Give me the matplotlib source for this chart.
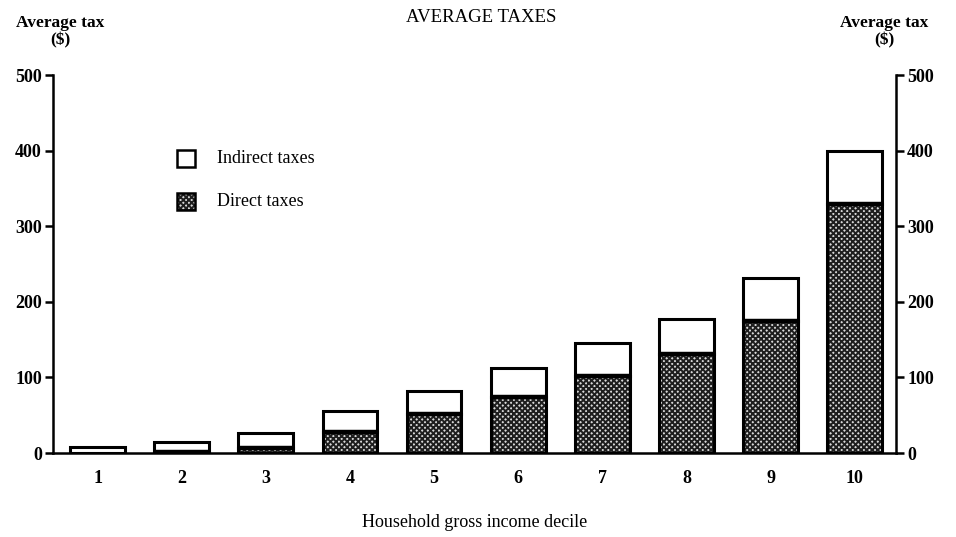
import numpy as np
import matplotlib
matplotlib.use('Agg')
from matplotlib import pyplot as plt

# average tax per household, by gross income decile ($)
deciles = [1, 2, 3, 4, 5, 6, 7, 8, 9, 10]
direct_taxes = [0, 2, 6, 28, 51, 74, 102, 131, 174, 330]
indirect_taxes = [8, 13, 21, 28, 31, 38, 43, 46, 57, 70]
y_ticks = [0, 100, 200, 300, 400, 500]

plt.rcParams['font.family'] = ['Liberation Serif', 'DejaVu Serif']
plt.rcParams['hatch.linewidth'] = 1.4

fig = plt.figure(figsize=(9.56, 5.37), dpi=100)
ax = fig.add_axes([0.0554, 0.1564, 0.8818, 0.7039])

x = np.array(deciles)
direct = np.array(direct_taxes)
indirect = np.array(indirect_taxes)
w = 0.65
stipple = '#1e1e1e'

# stippled fill for direct taxes, then the black outlines on top
ax.bar(x, direct, w, color='#d8d8d8', edgecolor=stipple, hatch='xxxxxx', linewidth=0, zorder=2)
ax.bar(x, direct, w, fill=False, edgecolor='black', linewidth=2.2, zorder=3)
ax.bar(x, indirect, w, bottom=direct, color='white', edgecolor='black', linewidth=2.2, zorder=3)
# heavier line where the two parts of a bar meet
ax.hlines(direct[direct > 0], x[direct > 0] - w / 2, x[direct > 0] + w / 2,
          color='black', linewidth=3.2, zorder=4)

ax.set_xlim(0.47, 10.49)
ax.set_ylim(0, 500)
ax.set_xticks(deciles)
ax.set_yticks(y_ticks)

ax.spines['top'].set_visible(False)
for s in ['left', 'right', 'bottom']:
    ax.spines[s].set_linewidth(1.8)

ax.tick_params(axis='x', length=0, pad=12, labelsize=13)
ax.tick_params(axis='y', length=6, width=1.8, labelsize=13, pad=2,
               left=True, right=True, labelleft=True, labelright=True)
for lbl in ax.get_xticklabels() + ax.get_yticklabels():
    lbl.set_fontweight('bold')

ax.set_xlabel('Household gross income decile', fontsize=13, labelpad=20)

fig.text(0.503, 0.968, 'AVERAGE TAXES', ha='center', va='center', fontsize=13.5)
fig.text(0.063, 0.958, 'Average tax', ha='center', va='center', fontsize=12.5, fontweight='bold')
fig.text(0.063, 0.925, '($)', ha='center', va='center', fontsize=12.5, fontweight='bold')
fig.text(0.925, 0.958, 'Average tax', ha='center', va='center', fontsize=12.5, fontweight='bold')
fig.text(0.925, 0.925, '($)', ha='center', va='center', fontsize=12.5, fontweight='bold')

# legend drawn as boxes in axes units
lx, lw, lh = 0.147, 0.022, 0.045
ax.add_patch(plt.Rectangle((lx, 0.757), lw, lh, transform=ax.transAxes,
                           facecolor='white', edgecolor='black', linewidth=1.8, zorder=5))
ax.add_patch(plt.Rectangle((lx, 0.643), lw, lh, transform=ax.transAxes,
                           facecolor='#d8d8d8', edgecolor=stipple, hatch='xxxxxx', linewidth=0, zorder=5))
ax.add_patch(plt.Rectangle((lx, 0.643), lw, lh, transform=ax.transAxes,
                           fill=False, edgecolor='black', linewidth=1.8, zorder=6))
ax.text(0.195, 0.779, 'Indirect taxes', transform=ax.transAxes, va='center', fontsize=13)
ax.text(0.195, 0.665, 'Direct taxes', transform=ax.transAxes, va='center', fontsize=13)

fig.savefig('out.png', dpi=100)
